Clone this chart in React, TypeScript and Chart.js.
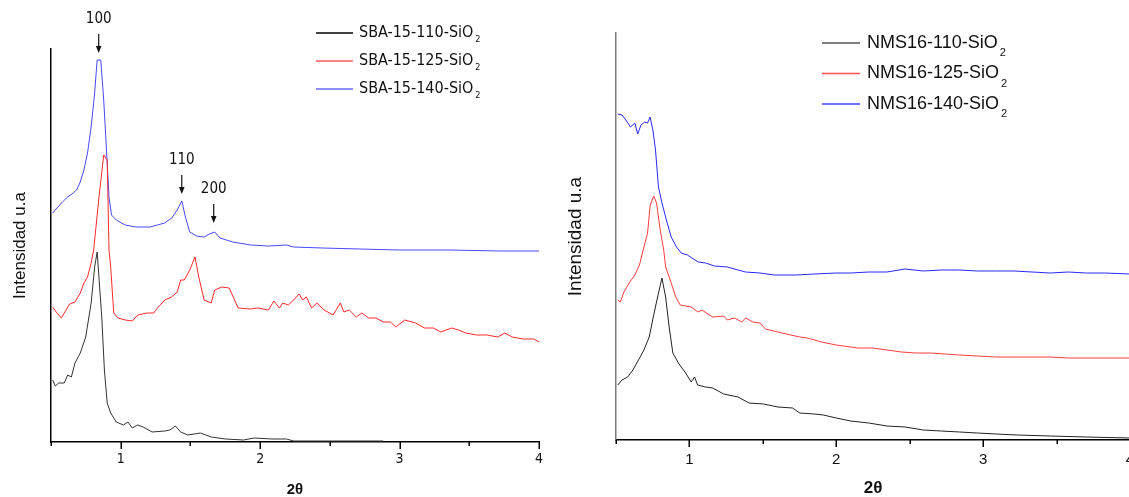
import React, { useEffect, useRef } from 'react';
import { Chart, registerables } from 'chart.js';

Chart.register(...registerables);

type Pt = [number, number];

// ---------- data ----------
const SBA_LABELS = ['SBA-15-110-SiO2', 'SBA-15-125-SiO2', 'SBA-15-140-SiO2'];
const NMS_LABELS = ['NMS16-110-SiO2', 'NMS16-125-SiO2', 'NMS16-140-SiO2'];

const X_TITLE = '2θ';
const Y_TITLE = 'Intensidad u.a';

const PEAK_LABELS = ['100', '110', '200'];
const PEAK_X = [0.842, 1.438, 1.667];
const PEAK_Y = [389, 248, 219];

const SBA_110: Pt[] = [
  [0.512, 62], [0.531, 56], [0.555, 59], [0.595, 59], [0.62, 67], [0.646, 65], [0.672, 79], [0.71, 89],
  [0.749, 105], [0.788, 139], [0.813, 175], [0.831, 190], [0.864, 125], [0.883, 72], [0.903, 39], [0.928, 29],
  [0.968, 20], [1.019, 17], [1.052, 20], [1.083, 14], [1.122, 17], [1.161, 15], [1.225, 10], [1.316, 11],
  [1.352, 12], [1.392, 16], [1.43, 10], [1.481, 7], [1.572, 9], [1.649, 5], [1.752, 3], [1.88, 2],
  [1.958, 4], [2.086, 3], [2.189, 3], [2.241, 1], [2.446, 1], [2.703, 1], [2.883, 1],
];

const SBA_125: Pt[] = [
  [0.512, 135], [0.543, 129], [0.574, 124], [0.608, 132], [0.634, 138], [0.672, 140], [0.71, 149], [0.736, 159],
  [0.762, 165], [0.788, 179], [0.806, 192], [0.842, 242], [0.878, 287], [0.903, 282], [0.916, 192], [0.928, 175],
  [0.95, 129], [0.981, 124], [1.032, 122], [1.083, 121], [1.122, 127], [1.187, 129], [1.237, 129], [1.263, 134],
  [1.316, 142], [1.366, 145], [1.405, 150], [1.43, 162], [1.456, 162], [1.495, 172], [1.533, 185], [1.56, 165],
  [1.598, 142], [1.649, 139], [1.674, 152], [1.725, 155], [1.778, 154], [1.842, 134], [1.933, 133], [1.983, 134],
  [2.06, 132], [2.098, 141], [2.138, 134], [2.162, 139], [2.202, 137], [2.241, 142], [2.279, 148], [2.305, 142],
  [2.331, 145], [2.369, 134], [2.407, 139], [2.459, 132], [2.523, 127], [2.575, 139], [2.6, 130], [2.639, 132],
  [2.69, 125], [2.729, 129], [2.779, 124], [2.831, 124], [2.883, 120], [2.935, 120], [2.973, 115], [3.037, 122],
  [3.115, 119], [3.179, 114], [3.243, 114], [3.295, 110], [3.372, 114], [3.423, 112], [3.475, 109], [3.552, 107],
  [3.629, 107], [3.704, 105], [3.755, 109], [3.808, 105], [3.886, 103], [3.963, 103], [4.0, 100],
];

const SBA_140: Pt[] = [
  [0.512, 229], [0.543, 234], [0.582, 240], [0.62, 245], [0.659, 249], [0.684, 252], [0.71, 260], [0.736, 272],
  [0.762, 289], [0.788, 315], [0.813, 349], [0.831, 382], [0.857, 382], [0.878, 342], [0.898, 292], [0.916, 245],
  [0.934, 227], [0.968, 222], [1.032, 217], [1.109, 215], [1.212, 215], [1.263, 217], [1.315, 219], [1.366, 224],
  [1.405, 232], [1.438, 241], [1.464, 225], [1.495, 210], [1.545, 206], [1.598, 205], [1.636, 208], [1.674, 210],
  [1.713, 204], [1.803, 200], [1.933, 197], [2.06, 196], [2.189, 197], [2.24, 195], [2.446, 194], [2.714, 193],
  [3.0, 192], [3.36, 192], [3.719, 191], [4.0, 191],
];

const NMS_110: Pt[] = [
  [0.512, 55], [0.541, 60], [0.579, 63], [0.615, 70], [0.653, 80], [0.69, 90], [0.726, 103], [0.764, 130],
  [0.794, 150], [0.813, 162], [0.838, 143], [0.862, 113], [0.887, 87], [0.925, 77], [0.974, 67], [1.012, 58],
  [1.035, 63], [1.056, 55], [1.11, 53], [1.159, 52], [1.233, 46], [1.331, 43], [1.406, 37], [1.505, 36],
  [1.603, 33], [1.702, 32], [1.752, 27], [1.851, 26], [1.912, 25], [2.0, 22], [2.099, 19], [2.221, 17],
  [2.345, 14], [2.469, 13], [2.592, 10], [2.715, 9], [2.839, 8], [2.961, 7], [3.086, 6], [3.233, 5],
  [3.457, 4], [3.702, 3], [4.0, 2],
];

const NMS_125: Pt[] = [
  [0.512, 140], [0.529, 138], [0.554, 148], [0.59, 157], [0.628, 165], [0.66, 175], [0.685, 190], [0.715, 207],
  [0.733, 235], [0.757, 244], [0.776, 237], [0.801, 210], [0.825, 190], [0.838, 173], [0.876, 157], [0.907, 143],
  [0.937, 135], [1.012, 133], [1.059, 128], [1.085, 130], [1.159, 123], [1.233, 124], [1.258, 120], [1.307, 122],
  [1.357, 118], [1.382, 122], [1.431, 118], [1.48, 117], [1.518, 111], [1.603, 108], [1.691, 105], [1.752, 103],
  [1.802, 102], [1.9, 98], [2.0, 95], [2.099, 93], [2.146, 92], [2.246, 92], [2.345, 90], [2.444, 88],
  [2.543, 87], [2.642, 87], [2.741, 86], [2.839, 85], [2.961, 84], [3.086, 83], [3.209, 83], [3.333, 83],
  [3.457, 83], [3.58, 82], [3.702, 82], [3.827, 82], [4.0, 82],
];

const NMS_140: Pt[] = [
  [0.512, 326], [0.541, 325], [0.567, 320], [0.599, 313], [0.628, 317], [0.648, 306], [0.67, 315], [0.695, 318],
  [0.715, 317], [0.732, 323], [0.751, 310], [0.769, 290], [0.789, 253], [0.813, 237], [0.843, 220], [0.876, 203],
  [0.912, 193], [0.944, 187], [0.986, 185], [1.059, 178], [1.11, 177], [1.171, 174], [1.258, 173], [1.331, 170],
  [1.382, 168], [1.48, 167], [1.579, 165], [1.728, 165], [1.851, 166], [2.0, 167], [2.099, 167], [2.221, 168],
  [2.345, 168], [2.469, 171], [2.592, 169], [2.715, 170], [2.839, 170], [2.961, 169], [3.086, 169], [3.209, 169],
  [3.333, 168], [3.457, 167], [3.58, 168], [3.702, 167], [3.827, 167], [4.0, 166],
];

// ---------- drawing helpers ----------
const NARROW = "'Liberation Sans Narrow', 'DejaVu Sans Condensed', 'Liberation Sans', Arial, sans-serif";
const SANS = "'Liberation Sans', Arial, sans-serif";

const decorPlugin = {
  id: 'decor',
  afterDraw(chart: any, _args: any, o: any) {
    const ctx: CanvasRenderingContext2D = chart.ctx;
    const xs = chart.scales.x;
    const ys = chart.scales.y;
    const area = chart.chartArea;
    ctx.save();
    // axis tick marks (major / minor)
    ctx.strokeStyle = o.tickColor;
    ctx.lineWidth = 1.5;
    xs.ticks.forEach((t: any) => {
      const px = Math.round(xs.getPixelForValue(t.value)) + 0.25;
      const len = Number.isInteger(t.value) ? 7 : 4;
      ctx.beginPath();
      ctx.moveTo(px, area.bottom);
      ctx.lineTo(px, area.bottom + len);
      ctx.stroke();
    });
    // legend
    chart.data.datasets.forEach((ds: any, i: number) => {
      const y = o.legendY + i * o.legendGap;
      ctx.strokeStyle = o.legendLineColors[i];
      ctx.lineWidth = 1.5;
      ctx.beginPath();
      ctx.moveTo(o.legendX, y);
      ctx.lineTo(o.legendX + o.legendLine, y);
      ctx.stroke();
      const label: string = ds.label;
      const base = label.slice(0, -1);
      const sub = label.slice(-1);
      ctx.fillStyle = '#111';
      ctx.textBaseline = 'middle';
      ctx.textAlign = 'left';
      ctx.font = `${o.legendSize}px ${o.legendFont}`;
      const tx = o.legendX + o.legendLine + o.legendTextGap;
      ctx.fillText(base, tx, y);
      const w = ctx.measureText(base).width;
      ctx.font = `${o.subSize}px ${o.legendFont}`;
      ctx.fillText(sub, tx + w + o.subGap, y + o.subDy);
    });
    // peak annotations
    (o.peaks || []).forEach((p: any) => {
      const px = xs.getPixelForValue(p.x);
      const tip = ys.getPixelForValue(p.y);
      const top = tip - 19;
      ctx.strokeStyle = '#111';
      ctx.fillStyle = '#111';
      ctx.lineWidth = 1.2;
      ctx.beginPath();
      ctx.moveTo(px, top);
      ctx.lineTo(px, tip - 5);
      ctx.stroke();
      ctx.beginPath();
      ctx.moveTo(px - 2.8, tip - 7);
      ctx.lineTo(px + 2.8, tip - 7);
      ctx.lineTo(px, tip);
      ctx.closePath();
      ctx.fill();
      ctx.font = `15px ${NARROW}`;
      ctx.textAlign = 'center';
      ctx.textBaseline = 'middle';
      ctx.fillText(p.label, px, top - 15);
    });
    ctx.restore();
  },
};

interface Cfg {
  width: number;
  height: number;
  top: number;
  padRight: number;
  yAxisW: number;
  xAxisH: number;
  ymax: number;
  labels: string[];
  series: Pt[][];
  colors: string[];
  legendLineColors: string[];
  yBorderColor: string;
  tickFont: any;
  tickPad: number;
  xTitleFont: any;
  yTitleFont: any;
  yTitlePad: number;
  legendX: number;
  legendY: number;
  legendGap: number;
  legendLine: number;
  legendTextGap: number;
  legendSize: number;
  legendFont: string;
  subSize: number;
  subDy: number;
  subGap: number;
  peaks?: { x: number; y: number; label: string }[];
}

function build(canvas: HTMLCanvasElement, c: Cfg) {
  return new Chart(canvas, {
    type: 'line',
    data: {
      datasets: c.series.map((s, i) => ({
        label: c.labels[i],
        data: s.map(([x, y]) => ({ x, y })),
        borderColor: c.colors[i],
        borderWidth: 1,
        pointRadius: 0,
        fill: false,
        tension: 0,
      })),
    },
    options: {
      animation: false,
      responsive: false,
      maintainAspectRatio: false,
      layout: { padding: { top: c.top, right: c.padRight, left: 0, bottom: 0 } },
      plugins: {
        legend: { display: false },
        tooltip: { enabled: false },
        decor: {
          tickColor: '#000',
          legendX: c.legendX,
          legendY: c.legendY,
          legendGap: c.legendGap,
          legendLine: c.legendLine,
          legendTextGap: c.legendTextGap,
          legendSize: c.legendSize,
          legendFont: c.legendFont,
          legendLineColors: c.legendLineColors,
          subSize: c.subSize,
          subDy: c.subDy,
          subGap: c.subGap,
          peaks: c.peaks || [],
        },
      } as any,
      scales: {
        x: {
          type: 'linear',
          min: 0.5,
          max: 4,
          ticks: {
            stepSize: 0.5,
            autoSkip: false,
            maxRotation: 0,
            padding: c.tickPad,
            color: '#111',
            font: c.tickFont,
            callback: (v: any) => (Number.isInteger(v) ? String(v) : ''),
          },
          grid: { display: true, drawOnChartArea: false, drawTicks: false, color: 'rgba(0,0,0,0)' },
          border: { display: true, color: '#000', width: 1.5 },
          title: { display: true, text: X_TITLE, color: '#111', font: c.xTitleFont, padding: { top: 0, bottom: 0 } },
          afterFit: (s: any) => {
            s.height = c.xAxisH;
            s.paddingLeft = 0;
            s.paddingRight = 0;
          },
        },
        y: {
          type: 'linear',
          min: 0,
          max: c.ymax,
          ticks: { display: false },
          grid: { display: true, drawOnChartArea: false, drawTicks: false, color: 'rgba(0,0,0,0)' },
          border: { display: true, color: c.yBorderColor, width: 1.5 },
          title: { display: true, text: Y_TITLE, color: '#111', font: c.yTitleFont, padding: { top: c.yTitlePad, bottom: 0 } },
          afterFit: (s: any) => {
            s.width = c.yAxisW;
            s.paddingTop = 0;
            s.paddingBottom = 0;
          },
        },
      },
    } as any,
    plugins: [decorPlugin as any],
  });
}

const LEFT: Cfg = {
  width: 560,
  height: 497,
  top: 49,
  padRight: 21,
  yAxisW: 51,
  xAxisH: 55,
  ymax: 393,
  labels: SBA_LABELS,
  series: [SBA_110, SBA_125, SBA_140],
  colors: ['#333333', '#ff2a2a', '#4848ff'],
  legendLineColors: ['#000000', '#ff5a5a', '#6a6aff'],
  yBorderColor: '#000',
  tickFont: { family: NARROW, size: 14, lineHeight: 1.2 },
  tickPad: 9,
  xTitleFont: { family: SANS, size: 15, weight: 'bold', lineHeight: 1.0 },
  yTitleFont: { family: SANS, size: 17, lineHeight: 1.2 },
  yTitlePad: 10,
  legendX: 316,
  legendY: 33,
  legendGap: 28,
  legendLine: 37,
  legendTextGap: 6,
  legendSize: 16,
  legendFont: NARROW,
  subSize: 9,
  subDy: 7,
  subGap: 2,
  peaks: PEAK_LABELS.map((label, i) => ({ x: PEAK_X[i], y: PEAK_Y[i], label })),
};

const RIGHT: Cfg = {
  width: 580,
  height: 497,
  top: 33,
  padRight: 10,
  yAxisW: 56,
  xAxisH: 57,
  ymax: 407,
  labels: NMS_LABELS,
  series: [NMS_110, NMS_125, NMS_140],
  colors: ['#222222', '#ff3c3c', '#2828ff'],
  legendLineColors: ['#555555', '#ff5050', '#4040ff'],
  yBorderColor: '#7a7a7a',
  tickFont: { family: SANS, size: 15, lineHeight: 1.2 },
  tickPad: 11,
  xTitleFont: { family: SANS, size: 17, weight: 'bold', lineHeight: 1.0 },
  yTitleFont: { family: SANS, size: 19, lineHeight: 1.2 },
  yTitlePad: 4,
  legendX: 262,
  legendY: 43,
  legendGap: 30.5,
  legendLine: 38,
  legendTextGap: 7,
  legendSize: 18,
  legendFont: SANS,
  subSize: 11,
  subDy: 10,
  subGap: 2,
};

function Panel({ cfg, left }: { cfg: Cfg; left: number }) {
  const ref = useRef<HTMLCanvasElement | null>(null);
  useEffect(() => {
    if (!ref.current) return;
    const ch = build(ref.current, cfg);
    return () => ch.destroy();
  }, [cfg]);
  return (
    <canvas
      ref={ref}
      width={cfg.width}
      height={cfg.height}
      style={{ position: 'absolute', left, top: 0, width: cfg.width, height: cfg.height }}
    />
  );
}

export default function App() {
  return (
    <div
      style={{
        position: 'absolute',
        left: 0,
        top: 0,
        width: 1129,
        height: 497,
        overflow: 'hidden',
        background: '#fff',
      }}
    >
      <Panel cfg={LEFT} left={0} />
      <Panel cfg={RIGHT} left={560} />
    </div>
  );
}
